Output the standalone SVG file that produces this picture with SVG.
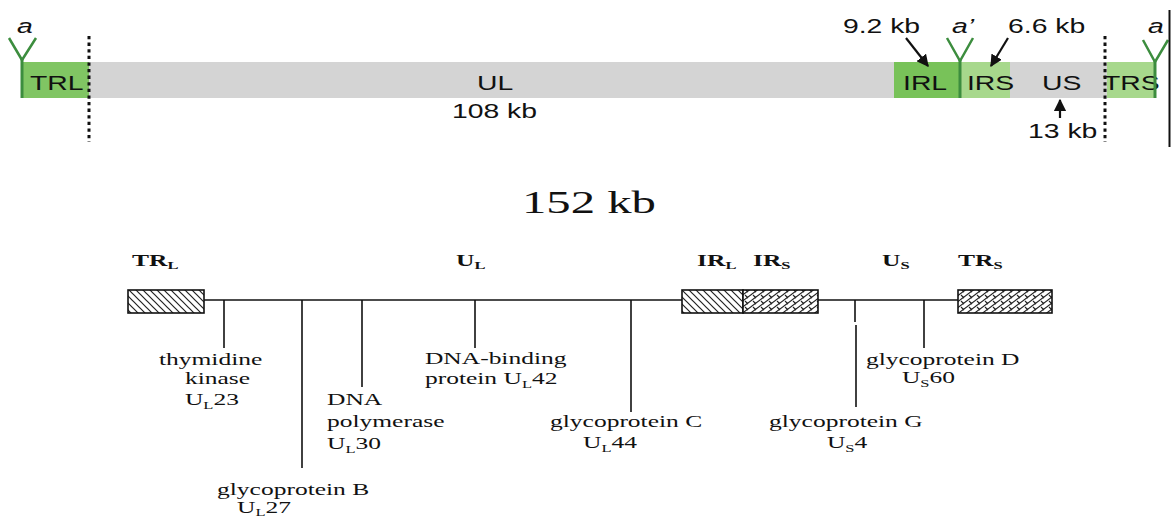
<svg xmlns="http://www.w3.org/2000/svg" width="1171" height="519" viewBox="0 0 1171 519">
<style>
.sans{font-family:"Liberation Sans",Arial,sans-serif;font-size:21px;fill:#111}
.it{font-style:italic}
.ser{font-family:"Liberation Serif","Times New Roman",serif;font-size:17px;fill:#111}
.ttl{font-size:32.5px}
.hd{font-weight:bold}
.sub{font-size:11px}
.gl{stroke:#3c8d3e;stroke-width:3;fill:none}
.ya{stroke:#3c8d3e;stroke-width:2.5;fill:none}
.dot{stroke:#111;stroke-width:3;stroke-dasharray:3.3 3.3}
.ln{stroke:#111;stroke-width:1.6;fill:none}
.ar{stroke:#111;stroke-width:2.2;fill:none}
.box{stroke:#111;stroke-width:1.6}
</style>
<defs>
<marker id="ah" viewBox="0 0 10 10" refX="9" refY="5" markerWidth="5.5" markerHeight="5.5" orient="auto-start-reverse">
<path d="M0,0 L10,5 L0,10 z" fill="#111"/>
</marker>
<pattern id="diag" width="7" height="7" patternUnits="userSpaceOnUse">
<rect width="7" height="7" fill="#fff"/>
<path d="M0,0 L7,7 M-1,6 L1,8 M6,-1 L8,1" stroke="#222" stroke-width="1.2"/>
</pattern>
<pattern id="weave" width="8" height="6" patternUnits="userSpaceOnUse">
<rect width="8" height="6" fill="#fff"/>
<path d="M0,6 L8,0 M-2,1.5 L2,-1.5 M6,7.5 L10,4.5 M1,1 L4,4" stroke="#222" stroke-width="1.1"/>
</pattern>
</defs>

<!-- Top linear map -->
<g id="top-bar">
<rect x="89" y="62" width="805" height="36" fill="#d4d4d4"/>
<rect x="1010" y="62" width="97" height="36" fill="#d4d4d4"/>
</g>
<g id="TRL">
<rect x="22" y="62" width="67" height="36" fill="#80c563"/>
<text class="sans" transform="scale(1.35,1)" x="22.2" y="90">TRL</text>
</g>
<g id="UL">
<text class="sans" transform="scale(1.35,1)" x="353.3" y="90">UL</text>
<text class="sans" transform="scale(1.35,1)" x="334.8" y="118">108 kb</text>
</g>
<g id="IRL">
<rect x="894" y="62" width="66" height="36" fill="#78c259"/>
<text class="sans" transform="scale(1.35,1)" x="668.9" y="90">IRL</text>
<text class="sans" transform="scale(1.35,1)" x="624.4" y="33">9.2 kb</text>
</g>
<g id="IRS">
<rect x="960" y="62" width="50" height="36" fill="#a7d88c"/>
<text class="sans" transform="scale(1.35,1)" x="716.3" y="90">IRS</text>
<text class="sans" transform="scale(1.35,1)" x="746.7" y="33">6.6 kb</text>
</g>
<g id="US">
<text class="sans" transform="scale(1.35,1)" x="771.9" y="90">US</text>
<text class="sans" transform="scale(1.35,1)" x="761.5" y="138">13 kb</text>
</g>
<g id="TRS">
<rect x="1107" y="62" width="49" height="36" fill="#a7d88c"/>
<text class="sans" transform="scale(1.35,1)" x="817" y="90">TRS</text>
</g>
<g id="a-left">
<path class="ya" d="M9,38 L22,60 L36,38"/>
<line class="gl" x1="22" y1="59" x2="22" y2="98"/>
<text class="sans it" transform="scale(1.35,1)" x="12.6" y="33">a</text>
</g>
<g id="a-prime">
<path class="ya" d="M947,38 L960,61 L973,38"/>
<line class="gl" x1="960" y1="60" x2="960" y2="98"/>
<text class="sans it" transform="scale(1.35,1)" x="705.2" y="33">a’</text>
</g>
<g id="a-right">
<path class="ya" d="M1143,40 L1155,62 L1168,40"/>
<line class="gl" x1="1155" y1="61" x2="1155" y2="98"/>
<text class="sans it" transform="scale(1.35,1)" x="850.4" y="33">a</text>
</g>
<g id="top-connectors">
<line class="dot" x1="89" y1="36" x2="89" y2="142"/>
<line class="dot" x1="1105" y1="36" x2="1105" y2="142"/>
<line x1="1169.5" y1="10" x2="1169.5" y2="147" stroke="#111" stroke-width="2"/>
<line class="ar" x1="906" y1="38" x2="928" y2="66" marker-end="url(#ah)"/>
<line class="ar" x1="1008" y1="38" x2="991" y2="66" marker-end="url(#ah)"/>
<line class="ar" x1="1060" y1="118" x2="1060" y2="100" marker-end="url(#ah)"/>
</g>

<!-- Title -->
<text id="title" class="ser ttl" transform="scale(1.5,1)" x="348" y="213">152 kb</text>

<!-- Bottom map connectors -->
<g id="connectors">
<line class="ln" x1="204" y1="300" x2="682" y2="300"/>
<line class="ln" x1="818" y1="300" x2="958" y2="300"/>
<line class="ln" x1="224" y1="300" x2="224" y2="348"/>
<line class="ln" x1="302" y1="300" x2="302" y2="468"/>
<line class="ln" x1="362" y1="300" x2="362" y2="387"/>
<line class="ln" x1="475" y1="300" x2="475" y2="348"/>
<line class="ln" x1="631" y1="300" x2="631" y2="412"/>
<line class="ln" x1="855" y1="300" x2="855" y2="322"/>
<line class="ln" x1="856" y1="325" x2="856" y2="407"/>
<line class="ln" x1="924" y1="300" x2="924" y2="348"/>
</g>

<g id="TR-L">
<rect class="box" x="128" y="290" width="76" height="23" fill="url(#diag)"/>
<text class="ser hd" transform="scale(1.5,1)" x="88" y="266">TR<tspan class="sub" dy="3">L</tspan></text>
</g>
<g id="U-L-header">
<text class="ser hd" transform="scale(1.5,1)" x="304" y="266">U<tspan class="sub" dy="3">L</tspan></text>
</g>
<g id="IR-L">
<rect class="box" x="682" y="290" width="61" height="23" fill="url(#diag)"/>
<text class="ser hd" transform="scale(1.5,1)" x="464.7" y="266">IR<tspan class="sub" dy="3">L</tspan></text>
</g>
<g id="IR-S">
<rect class="box" x="743" y="290" width="75" height="23" fill="url(#weave)"/>
<text class="ser hd" transform="scale(1.5,1)" x="502" y="266">IR<tspan class="sub" dy="3">S</tspan></text>
</g>
<g id="U-S-header">
<text class="ser hd" transform="scale(1.5,1)" x="588" y="266">U<tspan class="sub" dy="3">S</tspan></text>
</g>
<g id="TR-S">
<rect class="box" x="958" y="290" width="94" height="23" fill="url(#weave)"/>
<text class="ser hd" transform="scale(1.5,1)" x="638.7" y="266">TR<tspan class="sub" dy="3">S</tspan></text>
</g>

<g id="thymidine-kinase">
<text class="ser" transform="scale(1.5,1)" x="106" y="365">thymidine</text>
<text class="ser" transform="scale(1.5,1)" x="123.3" y="384">kinase</text>
<text class="ser" transform="scale(1.5,1)" x="123.3" y="405">U<tspan class="sub" dy="4">L</tspan><tspan dy="-4">23</tspan></text>
</g>
<g id="glycoprotein-B">
<text class="ser" transform="scale(1.5,1)" x="144.7" y="495">glycoprotein B</text>
<text class="ser" transform="scale(1.5,1)" x="158" y="513">U<tspan class="sub" dy="3">L</tspan><tspan dy="-3">27</tspan></text>
</g>
<g id="DNA-polymerase">
<text class="ser" transform="scale(1.5,1)" x="218" y="405">DNA</text>
<text class="ser" transform="scale(1.5,1)" x="218" y="427">polymerase</text>
<text class="ser" transform="scale(1.5,1)" x="218" y="449">U<tspan class="sub" dy="4">L</tspan><tspan dy="-4">30</tspan></text>
</g>
<g id="DNA-binding">
<text class="ser" transform="scale(1.5,1)" x="283.3" y="364">DNA-binding</text>
<text class="ser" transform="scale(1.5,1)" x="283.3" y="384">protein U<tspan class="sub" dy="4">L</tspan><tspan dy="-4">42</tspan></text>
</g>
<g id="glycoprotein-C">
<text class="ser" transform="scale(1.5,1)" x="366.7" y="427">glycoprotein C</text>
<text class="ser" transform="scale(1.5,1)" x="388.7" y="448">U<tspan class="sub" dy="4">L</tspan><tspan dy="-4">44</tspan></text>
</g>
<g id="glycoprotein-G">
<text class="ser" transform="scale(1.5,1)" x="512.7" y="427">glycoprotein G</text>
<text class="ser" transform="scale(1.5,1)" x="551.3" y="448">U<tspan class="sub" dy="4">S</tspan><tspan dy="-4">4</tspan></text>
</g>
<g id="glycoprotein-D">
<text class="ser" transform="scale(1.5,1)" x="577.3" y="365">glycoprotein D</text>
<text class="ser" transform="scale(1.5,1)" x="601.3" y="383">U<tspan class="sub" dy="4">S</tspan><tspan dy="-4">60</tspan></text>
</g>
</svg>
